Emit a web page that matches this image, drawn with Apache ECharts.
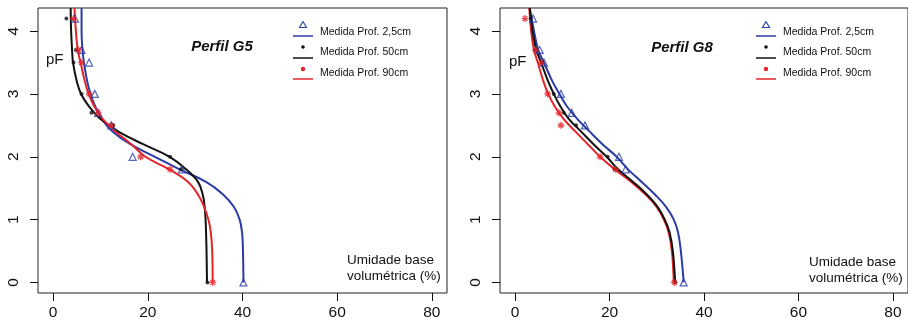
<!DOCTYPE html>
<html>
<head>
<meta charset="utf-8">
<script src="https://cdn.jsdelivr.net/npm/echarts@6/dist/echarts.min.js"></script>
<style>
  html, body { margin: 0; padding: 0; background: #fff; }
  #chart { width: 908px; height: 321px; }
</style>
</head>
<body>
<div id="chart"></div>
<script>
// pF levels of the measurements
const pfMeasured = [0, 1.8, 2.0, 2.5, 2.7, 3.0, 3.5, 3.7, 4.2];
// Perfil G5 measured moisture (%)
const g5Prof25 = [40.2, 27.2, 16.8, 12.3, 9.5, 8.8, 7.6, 6.0, 4.6];
const g5Prof50 = [32.6, 27.0, 24.7, 12.7, 8.1, 6.0, 4.3, 4.8, 2.8];
const g5Prof90 = [33.7, 24.7, 18.5, 12.3, 9.5, 7.6, 6.0, 5.3, 4.3];
// Perfil G8 measured moisture (%)
const g8Prof25 = [35.7, 23.4, 22.0, 14.8, 12.0, 9.7, 6.1, 5.2, 3.8];
const g8Prof50 = [33.9, 21.1, 19.6, 12.9, 10.3, 8.2, 5.7, 4.3, 3.3];
const g8Prof90 = [33.7, 21.3, 18.0, 9.7, 9.3, 6.9, 5.5, 4.3, 2.1];

// fitted curves at these pF levels
const pfCurve = [4.368, 4.0, 3.7, 3.5, 3.2, 3.0, 2.8, 2.6, 2.4, 2.2, 2.0, 1.8, 1.6, 1.4, 1.2, 1.0, 0.8, 0.5, 0];
const g5Fit25 = [6.0, 6.0, 6.2, 6.5, 7.2, 7.9, 8.9, 10.3, 12.6, 16.3, 21.5, 26.7, 32.3, 35.9, 38.2, 39.4, 39.9, 40.1, 40.2];
const g5Fit50 = [3.7, 3.8, 4.0, 4.2, 5.0, 5.9, 7.6, 10.0, 13.8, 19.0, 24.6, 28.1, 30.6, 31.6, 32.0, 32.2, 32.3, 32.4, 32.5];
const g5Fit90 = [4.5, 4.8, 5.2, 5.8, 6.7, 7.5, 8.7, 10.5, 13.2, 16.5, 19.5, 24.5, 28.5, 30.6, 31.9, 32.8, 33.3, 33.6, 33.7];
const g8Fit25 = [3.1, 4.0, 4.9, 6.1, 7.9, 9.4, 11.0, 13.2, 15.8, 18.5, 21.5, 23.9, 26.8, 29.6, 32.0, 33.6, 34.5, 35.1, 35.7];
const g8Fit50 = [3.1, 3.7, 4.5, 5.5, 7.0, 8.2, 9.6, 11.4, 14.0, 16.6, 19.4, 21.8, 25.0, 27.9, 30.2, 31.7, 32.7, 33.4, 33.9];
const g8Fit90 = [3.0, 3.4, 4.0, 4.8, 6.0, 7.0, 8.4, 10.3, 12.8, 15.4, 18.0, 21.1, 24.6, 27.6, 30.0, 31.5, 32.5, 33.2, 33.6];

const xTicks = [0, 20, 40, 60, 80];
const yTicks = [0, 1, 2, 3, 4];
const legendNames = ['Medida Prof. 2,5cm', 'Medida Prof. 50cm', 'Medida Prof. 90cm'];

const BLUE = '#2b3ca6';
const BLACK = '#111111';
const RED = '#e3242b';
const FONT = '"Liberation Sans", Arial, sans-serif';
const ASTERISK = 'path://M5 0L5 10M0 5L10 5M1.5 1.5L8.5 8.5M1.5 8.5L8.5 1.5';

const pairs = (xs, ys) => xs.map((x, i) => [x, ys[i]]);

const chart = echarts.init(document.getElementById('chart'));

const makeX = (gridIndex) => ({
  type: 'value',
  gridIndex,
  min: -3.2,
  max: 83.2,
  splitLine: { show: false },
  axisLine: { show: false, onZero: false },
  axisTick: { show: true, customValues: xTicks, length: 8, lineStyle: { color: BLACK, width: 1 } },
  axisLabel: { customValues: xTicks, margin: 12, fontSize: 15.5, color: BLACK, fontFamily: FONT }
});

const makeY = (gridIndex) => ({
  type: 'value',
  gridIndex,
  min: -0.168,
  max: 4.368,
  splitLine: { show: false },
  axisLine: { show: false, onZero: false },
  axisTick: { show: true, customValues: yTicks, length: 8, lineStyle: { color: BLACK, width: 1 } },
  axisLabel: { customValues: yTicks, rotate: 90, margin: 16, fontSize: 15.5, color: BLACK, fontFamily: FONT }
});

const curve = (idx, xs, color, z) => ({
  type: 'line',
  xAxisIndex: idx,
  yAxisIndex: idx,
  data: pairs(xs, pfCurve),
  smooth: 0.4,
  showSymbol: false,
  symbol: 'none',
  lineStyle: { color, width: 2 },
  z,
  silent: true
});

const points = (idx, xs, kind) => {
  const s = {
    type: 'scatter',
    xAxisIndex: idx,
    yAxisIndex: idx,
    data: pairs(xs, pfMeasured),
    z: 5,
    silent: true
  };
  if (kind === 'tri') {
    s.symbol = 'triangle';
    s.symbolSize = 7;
    s.itemStyle = { color: 'rgba(0,0,0,0)', borderColor: BLUE, borderWidth: 1.2 };
  } else if (kind === 'dot') {
    s.symbol = 'circle';
    s.symbolSize = 4;
    s.itemStyle = { color: BLACK };
  } else {
    s.symbol = ASTERISK;
    s.symbolSize = 7;
    s.itemStyle = { color: 'rgba(0,0,0,0)', borderColor: RED, borderWidth: 1.3 };
  }
  return s;
};

const text = (x, y, str, font, align) => ({
  type: 'text',
  x, y,
  style: {
    text: str,
    font,
    fill: BLACK,
    align: align || 'left',
    textAlign: align || 'left',
    verticalAlign: 'middle',
    textVerticalAlign: 'middle'
  }
});

const hline = (x1, x2, y, color) => ({
  type: 'line',
  shape: { x1, y1: y, x2, y2: y },
  style: { stroke: color, lineWidth: 1.5 }
});

const panelGraphics = (ox, title, titleX, dy) => {
  const sx = 303 + ox;
  return [
    text(titleX, 47 + dy, title, 'italic bold 15px ' + FONT, 'center'),
    text(46 + ox, 60 + dy * 2, 'pF', '15px ' + FONT),
    text(347 + ox - (ox ? 1 : 0), 260 + dy * 2, 'Umidade base', '13.5px ' + FONT),
    text(347 + ox - (ox ? 1 : 0), 276 + dy * 2, 'volumétrica (%)', '13.5px ' + FONT),
    // legend: symbol above a short line, then label
    {
      type: 'polygon',
      shape: { points: [[sx, 21.5], [sx - 3.5, 27.5], [sx + 3.5, 27.5]] },
      style: { fill: 'none', stroke: BLUE, lineWidth: 1.1 }
    },
    hline(sx - 10, sx + 10, 36, BLUE),
    text(320 + ox, 32, legendNames[0], '10.5px ' + FONT),
    { type: 'circle', shape: { cx: sx, cy: 47, r: 1.8 }, style: { fill: BLACK } },
    hline(sx - 10, sx + 10, 58, BLACK),
    text(320 + ox, 52, legendNames[1], '10.5px ' + FONT),
    { type: 'circle', shape: { cx: sx, cy: 69, r: 2.2 }, style: { fill: RED } },
    hline(sx - 10, sx + 10, 79, RED),
    text(320 + ox, 73, legendNames[2], '10.5px ' + FONT)
  ];
};

const option = {
  animation: false,
  backgroundColor: '#fff',
  textStyle: { fontFamily: FONT },
  grid: [
    { left: 38, top: 8, width: 409, height: 285, show: true, borderColor: '#222', borderWidth: 1, backgroundColor: 'transparent' },
    { left: 500, top: 8, width: 412, height: 285, show: true, borderColor: '#222', borderWidth: 1, backgroundColor: 'transparent' }
  ],
  xAxis: [makeX(0), makeX(1)],
  yAxis: [makeY(0), makeY(1)],
  series: [
    curve(0, g5Fit25, BLUE, 2),
    curve(0, g5Fit50, BLACK, 3),
    curve(0, g5Fit90, RED, 4),
    points(0, g5Prof25, 'tri'),
    points(0, g5Prof50, 'dot'),
    points(0, g5Prof90, 'ast'),
    curve(1, g8Fit25, BLUE, 2),
    curve(1, g8Fit90, RED, 3),
    curve(1, g8Fit50, BLACK, 4),
    points(1, g8Prof25, 'tri'),
    points(1, g8Prof50, 'dot'),
    points(1, g8Prof90, 'ast')
  ],
  graphic: [
    ...panelGraphics(0, 'Perfil G5', 222, 0),
    ...panelGraphics(463, 'Perfil G8', 682, 1)
  ]
};

chart.setOption(option);
</script>
</body>
</html>
